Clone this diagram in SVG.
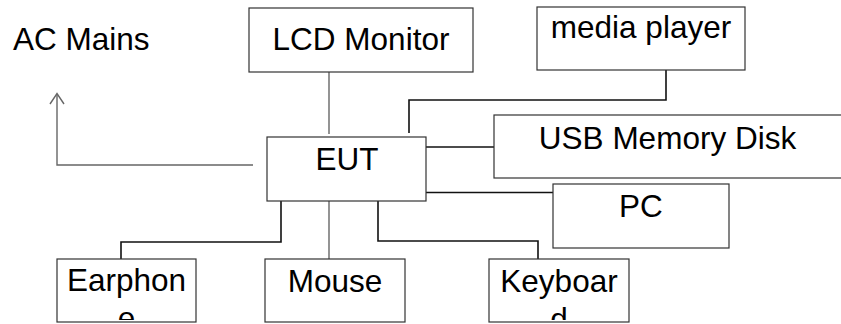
<svg xmlns="http://www.w3.org/2000/svg" width="841" height="324" viewBox="0 0 841 324">
<style>
.box{fill:#fff;stroke:#333;stroke-width:1.2}
.t{font-family:"Liberation Sans",Arial,sans-serif;font-size:31.5px;fill:#000;text-anchor:middle}
.blk{fill:none;stroke:#111;stroke-width:1.6}
.gry{fill:none;stroke:#666;stroke-width:1.4}
</style>
<defs>
<clipPath id="cE"><rect x="57" y="259" width="139" height="61"/></clipPath>
<clipPath id="cK"><rect x="489" y="259" width="140" height="61"/></clipPath>
</defs>
<rect width="841" height="324" fill="#fff"/>
<g id="connectors">
<path class="gry" d="M329,70 V134"/>
<path class="gry" d="M253,165 H57 V94"/>
<path class="gry" d="M50,104 L57,93.5 L64,104"/>
<path class="blk" d="M666,70 V100 H409 V133"/>
<path class="blk" d="M426,147 H494"/>
<path class="blk" d="M426,192.5 H554"/>
<path class="blk" d="M281,201 V242 H121 V259"/>
<path class="gry" d="M329,200 V264"/>
<path class="blk" d="M378,199 V241 H538 V259"/>
</g>
<g id="ac-mains"><text class="t" x="13" y="50" style="text-anchor:start">AC Mains</text></g>
<g id="lcd-monitor"><rect class="box" x="249" y="8" width="224" height="64"/><text class="t" x="361" y="50">LCD Monitor</text></g>
<g id="media-player"><rect class="box" x="537" y="7" width="208" height="63"/><text class="t" x="641" y="38">media player</text></g>
<g id="eut"><rect class="box" x="267" y="137" width="159" height="64"/><text class="t" x="347" y="170">EUT</text></g>
<g id="usb-memory-disk"><rect class="box" x="494" y="115" width="360" height="63"/><text class="t" x="667.5" y="149">USB Memory Disk</text></g>
<g id="pc"><rect class="box" x="553" y="184" width="176" height="64"/><text class="t" x="641" y="217">PC</text></g>
<g id="earphone"><rect class="box" x="57" y="259" width="139" height="63"/><text class="t" x="126.5" y="291" clip-path="url(#cE)">Earphon<tspan x="126.5" y="329">e</tspan></text></g>
<g id="mouse"><rect class="box" x="265" y="259" width="140" height="63"/><text class="t" x="335" y="292">Mouse</text></g>
<g id="keyboard"><rect class="box" x="489" y="259" width="140" height="63"/><text class="t" x="559" y="292" clip-path="url(#cK)">Keyboar<tspan x="559" y="330">d</tspan></text></g>
</svg>
